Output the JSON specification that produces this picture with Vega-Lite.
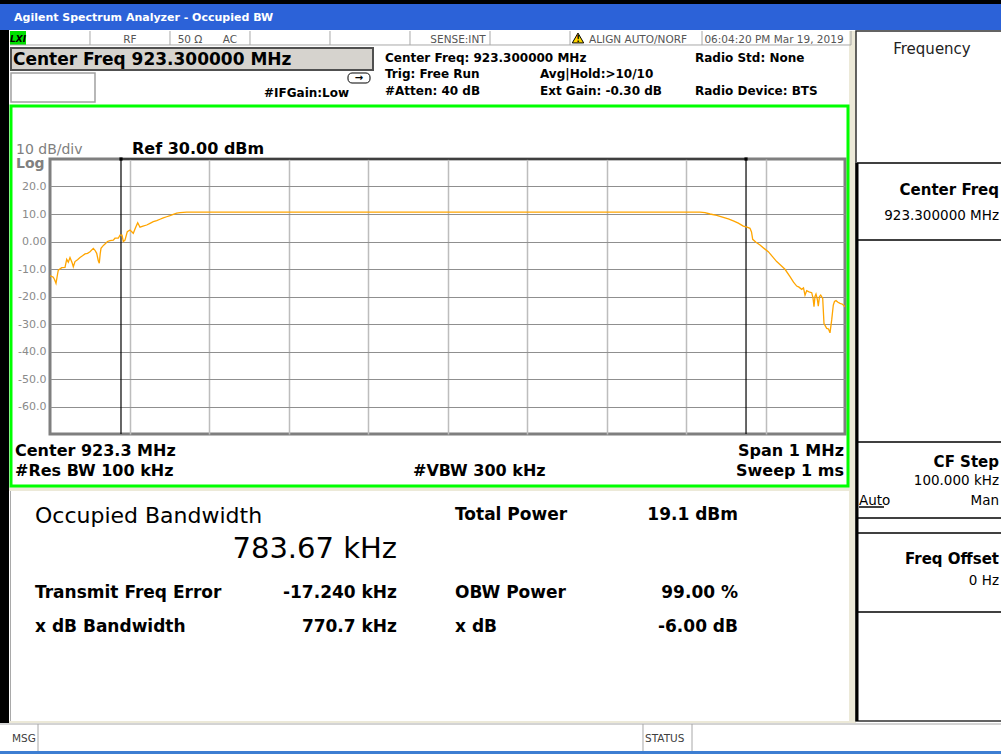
{
  "$schema": "https://vega.github.io/schema/vega-lite/v6.json",
  "width": 795,
  "height": 275,
  "autosize": {"type": "none"},
  "padding": {"left": 50, "top": 159, "right": 156, "bottom": 320},
  "background": "white",
  "config": {"view": {"stroke": "#7F7F7F", "strokeWidth": 3, "fill": "white"}, "font": "DejaVu Sans"},
  "datasets": {
    "trace": [
      {"f": 922.8, "v": -12.5}, {"f": 922.80126, "v": -12.6}, {"f": 922.80415, "v": -13.0}, {"f": 922.80566, "v": -13.8},
      {"f": 922.80755, "v": -15.2}, {"f": 922.80943, "v": -12.0}, {"f": 922.81044, "v": -10.4}, {"f": 922.81472, "v": -9.5},
      {"f": 922.81887, "v": -9.4}, {"f": 922.82101, "v": -6.5}, {"f": 922.82302, "v": -7.5}, {"f": 922.82516, "v": -5.8},
      {"f": 922.82767, "v": -7.6}, {"f": 922.82931, "v": -9.2}, {"f": 922.83145, "v": -7.3}, {"f": 922.8346, "v": -6.6},
      {"f": 922.83774, "v": -5.8}, {"f": 922.84088, "v": -5.2}, {"f": 922.84403, "v": -4.5}, {"f": 922.84717, "v": -4.3},
      {"f": 922.85031, "v": -3.7}, {"f": 922.85447, "v": -2.5}, {"f": 922.8566, "v": -3.2}, {"f": 922.85874, "v": -4.3},
      {"f": 922.86075, "v": -7.0}, {"f": 922.86201, "v": -7.9}, {"f": 922.86314, "v": -4.5}, {"f": 922.86415, "v": -2.5},
      {"f": 922.86667, "v": -1.6}, {"f": 922.86918, "v": -0.9}, {"f": 922.87233, "v": 0.0}, {"f": 922.87547, "v": 0.3},
      {"f": 922.87962, "v": 0.5}, {"f": 922.88176, "v": 1.2}, {"f": 922.8859, "v": 1.2}, {"f": 922.88805, "v": 2.3},
      {"f": 922.89057, "v": 2.3}, {"f": 922.8922, "v": 0.0}, {"f": 922.89434, "v": 0.5}, {"f": 922.89723, "v": 3.6},
      {"f": 922.90063, "v": 4.2}, {"f": 922.90478, "v": 3.0}, {"f": 922.90755, "v": 5.0}, {"f": 922.91031, "v": 6.8},
      {"f": 922.91321, "v": 5.2}, {"f": 922.91698, "v": 5.6}, {"f": 922.92164, "v": 6.0}, {"f": 922.92579, "v": 6.6},
      {"f": 922.92994, "v": 7.2}, {"f": 922.93421, "v": 7.6}, {"f": 922.93836, "v": 8.1}, {"f": 922.94252, "v": 8.6},
      {"f": 922.94679, "v": 9.0}, {"f": 922.95094, "v": 9.4}, {"f": 922.95509, "v": 9.9}, {"f": 922.95937, "v": 10.3},
      {"f": 922.96352, "v": 10.5}, {"f": 922.97195, "v": 10.7}, {"f": 923.05157, "v": 10.7}, {"f": 923.24025, "v": 10.7},
      {"f": 923.42893, "v": 10.7}, {"f": 923.61761, "v": 10.7}, {"f": 923.6239, "v": 10.5}, {"f": 923.63019, "v": 10.0},
      {"f": 923.63862, "v": 9.5}, {"f": 923.64692, "v": 8.8}, {"f": 923.65321, "v": 8.2}, {"f": 923.6595, "v": 7.5},
      {"f": 923.66579, "v": 6.7}, {"f": 923.67208, "v": 5.6}, {"f": 923.67673, "v": 5.2}, {"f": 923.6805, "v": 4.8},
      {"f": 923.68239, "v": 3.5}, {"f": 923.6839, "v": 0.8}, {"f": 923.68805, "v": -0.3}, {"f": 923.69308, "v": -1.3},
      {"f": 923.69811, "v": -2.5}, {"f": 923.70352, "v": -3.7}, {"f": 923.70881, "v": -5.5}, {"f": 923.71409, "v": -7.3},
      {"f": 923.7195, "v": -8.7}, {"f": 923.72453, "v": -10.1}, {"f": 923.73082, "v": -12.8}, {"f": 923.73522, "v": -14.8},
      {"f": 923.73925, "v": -16.2}, {"f": 923.74214, "v": -16.6}, {"f": 923.74553, "v": -17.4}, {"f": 923.7478, "v": -16.9},
      {"f": 923.74969, "v": -19.5}, {"f": 923.75182, "v": -17.9}, {"f": 923.75472, "v": -18.3}, {"f": 923.75811, "v": -18.6},
      {"f": 923.75975, "v": -20.5}, {"f": 923.76101, "v": -23.7}, {"f": 923.76226, "v": -20.0}, {"f": 923.76352, "v": -19.1},
      {"f": 923.76516, "v": -21.0}, {"f": 923.76642, "v": -23.5}, {"f": 923.76792, "v": -20.0}, {"f": 923.76943, "v": -19.5},
      {"f": 923.77195, "v": -20.7}, {"f": 923.77358, "v": -29.8}, {"f": 923.77698, "v": -31.6}, {"f": 923.77925, "v": -31.8},
      {"f": 923.78113, "v": -33.2}, {"f": 923.78327, "v": -28.5}, {"f": 923.78528, "v": -23.1}, {"f": 923.78679, "v": -21.8},
      {"f": 923.78868, "v": -21.5}, {"f": 923.79119, "v": -22.1}, {"f": 923.79371, "v": -22.5}, {"f": 923.79686, "v": -22.8},
      {"f": 923.8, "v": -23.7}
    ],
    "markers": [
      {"f": 922.8893, "f2": 922.8893, "v": -70, "v2": 30},
      {"f": 923.6755, "f2": 923.6755, "v": -70, "v2": 30},
      {"f": 922.8893, "f2": 923.6755, "v": 30, "v2": 30}
    ],
    "markerDots": [{"f": 922.8893, "v": 30}, {"f": 923.6755, "v": 30}],
    "rBlack": [
      {"f": 922.73711, "f2": 923.99623, "v": 87.818, "v2": 86.364},
      {"f": 922.73711, "f2": 922.74843, "v": 76.909, "v2": -175.091}
    ],
    "rTitle": [{"f": 922.73711, "f2": 923.99623, "v": 86.364, "v2": 76.909}],
    "rBeige": [
      {"f": 923.80503, "f2": 923.81384, "v": 76.545, "v2": -175.091},
      {"f": 922.74843, "f2": 923.80503, "v": -89.273, "v2": -90.727},
      {"f": 922.74843, "f2": 923.81384, "v": -174.364, "v2": -175.091}
    ],
    "rLxi": [{"f": 922.74969, "f2": 922.76981, "v": 76.545, "v2": 71.455}],
    "rCf": [{"f": 922.75094, "f2": 923.20629, "v": 70.364, "v2": 62.364}],
    "rWhite": [{"f": 922.75094, "f2": 922.8566, "v": 61.273, "v2": 50.727}],
    "rIcon": [{"f": 923.17484, "f2": 923.20252, "v": 61.273, "v2": 57.636}],
    "rGreen": [{"f": 922.75094, "f2": 923.80377, "v": 49.273, "v2": -88.909}],
    "rSoft": [{"f": 923.81384, "f2": 923.99874, "v": 76.545, "v2": -174.364}],
    "rBlue": [{"f": 922.73711, "f2": 923.99623, "v": -185.273, "v2": -186.364}],
    "lStatus": [
      {"f": 922.85031, "f2": 922.85031, "v": 76.545, "v2": 71.455},
      {"f": 922.95094, "f2": 922.95094, "v": 76.545, "v2": 71.455},
      {"f": 923.05157, "f2": 923.05157, "v": 76.545, "v2": 71.455},
      {"f": 923.1522, "f2": 923.1522, "v": 76.545, "v2": 71.455},
      {"f": 923.25283, "f2": 923.25283, "v": 76.545, "v2": 71.455},
      {"f": 923.35346, "f2": 923.35346, "v": 76.545, "v2": 71.455},
      {"f": 923.45409, "f2": 923.45409, "v": 76.545, "v2": 71.455},
      {"f": 923.62013, "f2": 923.62013, "v": 76.545, "v2": 71.455},
      {"f": 923.80755, "f2": 923.80755, "v": 76.545, "v2": 71.455},
      {"f": 922.74969, "f2": 923.80755, "v": 71.455, "v2": 71.455},
      {"f": 922.75031, "f2": 922.75031, "v": -90.727, "v2": -174.364},
      {"f": 922.73711, "f2": 923.99623, "v": -175.455, "v2": -175.455},
      {"f": 922.78491, "f2": 922.78491, "v": -175.455, "v2": -185.273},
      {"f": 923.54591, "f2": 923.54591, "v": -175.455, "v2": -185.273},
      {"f": 923.60755, "f2": 923.60755, "v": -175.455, "v2": -185.273}
    ],
    "lSoftThin": [
      {"f": 923.81509, "f2": 923.99874, "v": 28.545, "v2": 28.545},
      {"f": 923.81509, "f2": 923.99874, "v": 0.545, "v2": 0.545},
      {"f": 923.81509, "f2": 923.99874, "v": -72.909, "v2": -72.909},
      {"f": 923.81509, "f2": 923.99874, "v": -100.545, "v2": -100.545},
      {"f": 923.81509, "f2": 923.99874, "v": -106, "v2": -106},
      {"f": 923.81509, "f2": 923.99874, "v": -134.727, "v2": -134.727},
      {"f": 923.81761, "f2": 923.84906, "v": -96.545, "v2": -96.545}
    ],
    "lSoftThick": [{"f": 923.81509, "f2": 923.81509, "v": 28.545, "v2": -174.364}],
    "warn": [{"f": 923.46415, "v": 74}],
    "tWarn": [{"t": "!", "f": 923.46415, "v": 72.545}],
    "tTitle": [{"t": "Agilent Spectrum Analyzer - Occupied BW", "f": 922.75472, "v": 80.182}],
    "tStatus": [
      {"t": "RF", "f": 922.90063, "v": 72.182},
      {"t": "50 Ω", "f": 922.9761, "v": 72.182},
      {"t": "AC", "f": 923.02642, "v": 72.182},
      {"t": "SENSE:INT", "f": 923.31321, "v": 72.182},
      {"t": "ALIGN AUTO/NORF", "f": 923.53962, "v": 72.182},
      {"t": "06:04:20 PM Mar 19, 2019", "f": 923.71069, "v": 72.182}
    ],
    "tLxi": [{"t": "LXI", "f": 922.75975, "v": 72.545}],
    "tArrow": [{"t": "→", "f": 923.18868, "v": 59.455}],
    "tHeader": [{"t": "Center Freq 923.300000 MHz", "f": 922.75346, "v": 64.182}],
    "tInfo": [
      {"t": "Center Freq: 923.300000 MHz", "f": 923.22138, "v": 65.4},
      {"t": "Trig: Free Run", "f": 923.22138, "v": 59.455},
      {"t": "#Atten: 40 dB", "f": 923.22138, "v": 53.273},
      {"t": "Avg|Hold:>10/10", "f": 923.41635, "v": 59.455},
      {"t": "Ext Gain: -0.30 dB", "f": 923.41635, "v": 53.273},
      {"t": "Radio Std: None", "f": 923.61132, "v": 65.4},
      {"t": "Radio Device: BTS", "f": 923.61132, "v": 53.273},
      {"t": "#IFGain:Low", "f": 923.06918, "v": 52.545}
    ],
    "tDiv": [{"t": "10 dB/div", "f": 922.75723, "v": 31.818}],
    "tLog": [{"t": "Log", "f": 922.75723, "v": 26.727}],
    "tRef": [{"t": "Ref 30.00 dBm", "f": 922.90314, "v": 31.818}],
    "tBotL": [
      {"t": "Center 923.3 MHz", "f": 922.75597, "v": -78},
      {"t": "#Res BW 100 kHz", "f": 922.75597, "v": -85.273},
      {"t": "#VBW 300 kHz", "f": 923.2566, "v": -85.273}
    ],
    "tBotR": [
      {"t": "Span 1 MHz", "f": 923.79874, "v": -78},
      {"t": "Sweep 1 ms", "f": 923.79874, "v": -85.273}
    ],
    "tOcc": [{"t": "Occupied Bandwidth", "f": 922.78113, "v": -102.364}],
    "tObw": [{"t": "783.67 kHz", "f": 923.23648, "v": -115.091}],
    "tResL": [
      {"t": "Transmit Freq Error", "f": 922.78113, "v": -129.636},
      {"t": "x dB Bandwidth", "f": 922.78113, "v": -142},
      {"t": "Total Power", "f": 923.30943, "v": -101.273},
      {"t": "OBW Power", "f": 923.30943, "v": -129.636},
      {"t": "x dB", "f": 923.30943, "v": -142}
    ],
    "tResR": [
      {"t": "-17.240 kHz", "f": 923.23648, "v": -129.636},
      {"t": "770.7 kHz", "f": 923.23648, "v": -142},
      {"t": "19.1 dBm", "f": 923.66541, "v": -101.273},
      {"t": "99.00 %", "f": 923.66541, "v": -129.636},
      {"t": "-6.00 dB", "f": 923.66541, "v": -142}
    ],
    "tFreq": [{"t": "Frequency", "f": 923.90943, "v": 68.182}],
    "tSkB": [
      {"t": "Center Freq", "f": 923.99371, "v": 16.909},
      {"t": "CF Step", "f": 923.99371, "v": -82},
      {"t": "Freq Offset", "f": 923.99371, "v": -117.273}
    ],
    "tSkN": [
      {"t": "923.300000 MHz", "f": 923.99371, "v": 7.818},
      {"t": "100.000 kHz", "f": 923.99371, "v": -88.545},
      {"t": "Man", "f": 923.99371, "v": -95.818},
      {"t": "0 Hz", "f": 923.99371, "v": -124.909}
    ],
    "tAuto": [{"t": "Auto", "f": 923.81761, "v": -95.818}],
    "tMsg": [{"t": "MSG", "f": 922.7522, "v": -182}, {"t": "STATUS", "f": 923.54843, "v": -182}]
  },
  "encoding": {
    "x": {"field": "f", "type": "quantitative", "scale": {"domain": [922.8, 923.8], "nice": false, "zero": false},
          "axis": {"title": null, "values": [922.9, 923.0, 923.1, 923.2, 923.3, 923.4, 923.5, 923.6, 923.7], "labels": false, "ticks": false, "domain": false, "grid": true, "gridColor": "#BDBDBD", "gridWidth": 1.5}},
    "y": {"field": "v", "type": "quantitative", "scale": {"domain": [-70, 30], "nice": false, "zero": false},
          "axis": {"title": null, "values": [-60, -50, -40, -30, -20, -10, 0, 10, 20], "labelOverlap": false, "labelExpr": "datum.value == 0 ? '0.00' : datum.value + '.0'", "labelColor": "#8A8A8A", "labelFont": "DejaVu Sans", "labelFontSize": 11, "labelPadding": 4, "ticks": false, "domain": false, "grid": true, "gridColor": "#8F8F8F", "gridWidth": 1}}
  },
  "layer": [
    {"data": {"name": "rBlack"}, "mark": {"type": "rect", "fill": "#000000", "clip": false}, "encoding": {"x2": {"field": "f2"}, "y2": {"field": "v2"}}},
    {"data": {"name": "rTitle"}, "mark": {"type": "rect", "fill": "#2C62D8", "clip": false}, "encoding": {"x2": {"field": "f2"}, "y2": {"field": "v2"}}},
    {"data": {"name": "rBeige"}, "mark": {"type": "rect", "fill": "#ECE9D8", "clip": false}, "encoding": {"x2": {"field": "f2"}, "y2": {"field": "v2"}}},
    {"data": {"name": "rBlue"}, "mark": {"type": "rect", "fill": "#3D7ED2", "clip": false}, "encoding": {"x2": {"field": "f2"}, "y2": {"field": "v2"}}},
    {"data": {"name": "rLxi"}, "mark": {"type": "rect", "fill": "#00E000", "clip": false}, "encoding": {"x2": {"field": "f2"}, "y2": {"field": "v2"}}},
    {"data": {"name": "rCf"}, "mark": {"type": "rect", "fill": "#D6D3CE", "stroke": "#505050", "strokeWidth": 2, "clip": false}, "encoding": {"x2": {"field": "f2"}, "y2": {"field": "v2"}}},
    {"data": {"name": "rWhite"}, "mark": {"type": "rect", "fill": "#FFFFFF", "stroke": "#A0A0A0", "strokeWidth": 1.5, "clip": false}, "encoding": {"x2": {"field": "f2"}, "y2": {"field": "v2"}}},
    {"data": {"name": "rIcon"}, "mark": {"type": "rect", "fill": "#FFFFFF", "stroke": "#000000", "strokeWidth": 1, "cornerRadius": 4, "clip": false}, "encoding": {"x2": {"field": "f2"}, "y2": {"field": "v2"}}},
    {"data": {"name": "rGreen"}, "mark": {"type": "rect", "fill": null, "fillOpacity": 0, "stroke": "#00FF00", "strokeWidth": 3, "clip": false}, "encoding": {"x2": {"field": "f2"}, "y2": {"field": "v2"}}},
    {"data": {"name": "rSoft"}, "mark": {"type": "rect", "fill": "#FFFFFF", "stroke": "#303030", "strokeWidth": 1.5, "clip": false}, "encoding": {"x2": {"field": "f2"}, "y2": {"field": "v2"}}},
    {"data": {"name": "lStatus"}, "mark": {"type": "rule", "color": "#A8A8A8", "strokeWidth": 1, "clip": false}, "encoding": {"x2": {"field": "f2"}, "y2": {"field": "v2"}}},
    {"data": {"name": "lSoftThin"}, "mark": {"type": "rule", "color": "#000000", "strokeWidth": 1.5, "clip": false}, "encoding": {"x2": {"field": "f2"}, "y2": {"field": "v2"}}},
    {"data": {"name": "lSoftThick"}, "mark": {"type": "rule", "color": "#000000", "strokeWidth": 3, "clip": false}, "encoding": {"x2": {"field": "f2"}, "y2": {"field": "v2"}}},
    {"data": {"name": "markers"}, "mark": {"type": "rule", "color": "#000000", "strokeWidth": 1.2, "clip": false}, "encoding": {"x2": {"field": "f2"}, "y2": {"field": "v2"}}},
    {"data": {"name": "markerDots"}, "mark": {"type": "point", "shape": "square", "filled": true, "color": "#000000", "size": 10, "opacity": 1, "clip": false}},
    {"data": {"name": "trace"}, "mark": {"type": "line", "color": "#FFA500", "strokeWidth": 1.3, "clip": true}},
    {"data": {"name": "warn"}, "mark": {"type": "point", "shape": "triangle-up", "filled": true, "fill": "#FFD800", "stroke": "#000000", "strokeWidth": 1, "size": 130, "opacity": 1, "clip": false}},
    {"data": {"name": "tWarn"}, "mark": {"type": "text", "align": "center", "baseline": "alphabetic", "fontSize": 8, "fontWeight": "bold", "color": "#000000", "clip": false}, "encoding": {"text": {"field": "t"}}},
    {"data": {"name": "tTitle"}, "mark": {"type": "text", "align": "left", "baseline": "alphabetic", "font": "DejaVu Sans", "fontSize": 11, "fontWeight": "bold", "color": "#FFFFFF", "clip": false}, "encoding": {"text": {"field": "t"}}},
    {"data": {"name": "tStatus"}, "mark": {"type": "text", "align": "center", "baseline": "alphabetic", "font": "DejaVu Sans", "fontSize": 10.5, "color": "#555555", "clip": false}, "encoding": {"text": {"field": "t"}}},
    {"data": {"name": "tLxi"}, "mark": {"type": "text", "align": "center", "baseline": "alphabetic", "font": "DejaVu Sans", "fontSize": 9, "fontWeight": "bold", "fontStyle": "italic", "color": "#000000", "clip": false}, "encoding": {"text": {"field": "t"}}},
    {"data": {"name": "tArrow"}, "mark": {"type": "text", "align": "center", "baseline": "middle", "font": "DejaVu Sans", "fontSize": 10, "fontWeight": "bold", "color": "#000000", "clip": false}, "encoding": {"text": {"field": "t"}}},
    {"data": {"name": "tHeader"}, "mark": {"type": "text", "align": "left", "baseline": "alphabetic", "font": "DejaVu Sans", "fontSize": 17, "fontWeight": "bold", "color": "#000000", "clip": false}, "encoding": {"text": {"field": "t"}}},
    {"data": {"name": "tInfo"}, "mark": {"type": "text", "align": "left", "baseline": "alphabetic", "font": "DejaVu Sans", "fontSize": 12, "fontWeight": "bold", "color": "#000000", "clip": false}, "encoding": {"text": {"field": "t"}}},
    {"data": {"name": "tDiv"}, "mark": {"type": "text", "align": "left", "baseline": "alphabetic", "font": "DejaVu Sans", "fontSize": 14, "color": "#808080", "clip": false}, "encoding": {"text": {"field": "t"}}},
    {"data": {"name": "tLog"}, "mark": {"type": "text", "align": "left", "baseline": "alphabetic", "font": "DejaVu Sans", "fontSize": 14, "fontWeight": "bold", "color": "#808080", "clip": false}, "encoding": {"text": {"field": "t"}}},
    {"data": {"name": "tRef"}, "mark": {"type": "text", "align": "left", "baseline": "alphabetic", "font": "DejaVu Sans", "fontSize": 16, "fontWeight": "bold", "color": "#000000", "clip": false}, "encoding": {"text": {"field": "t"}}},
    {"data": {"name": "tBotL"}, "mark": {"type": "text", "align": "left", "baseline": "alphabetic", "font": "DejaVu Sans", "fontSize": 16, "fontWeight": "bold", "color": "#000000", "clip": false}, "encoding": {"text": {"field": "t"}}},
    {"data": {"name": "tBotR"}, "mark": {"type": "text", "align": "right", "baseline": "alphabetic", "font": "DejaVu Sans", "fontSize": 16, "fontWeight": "bold", "color": "#000000", "clip": false}, "encoding": {"text": {"field": "t"}}},
    {"data": {"name": "tOcc"}, "mark": {"type": "text", "align": "left", "baseline": "alphabetic", "font": "DejaVu Sans", "fontSize": 22, "color": "#000000", "clip": false}, "encoding": {"text": {"field": "t"}}},
    {"data": {"name": "tObw"}, "mark": {"type": "text", "align": "right", "baseline": "alphabetic", "font": "DejaVu Sans", "fontSize": 29, "color": "#000000", "clip": false}, "encoding": {"text": {"field": "t"}}},
    {"data": {"name": "tResL"}, "mark": {"type": "text", "align": "left", "baseline": "alphabetic", "font": "DejaVu Sans", "fontSize": 17, "fontWeight": "bold", "color": "#000000", "clip": false}, "encoding": {"text": {"field": "t"}}},
    {"data": {"name": "tResR"}, "mark": {"type": "text", "align": "right", "baseline": "alphabetic", "font": "DejaVu Sans", "fontSize": 17, "fontWeight": "bold", "color": "#000000", "clip": false}, "encoding": {"text": {"field": "t"}}},
    {"data": {"name": "tFreq"}, "mark": {"type": "text", "align": "center", "baseline": "alphabetic", "font": "DejaVu Sans", "fontSize": 15, "color": "#222222", "clip": false}, "encoding": {"text": {"field": "t"}}},
    {"data": {"name": "tSkB"}, "mark": {"type": "text", "align": "right", "baseline": "alphabetic", "font": "DejaVu Sans", "fontSize": 15, "fontWeight": "bold", "color": "#000000", "clip": false}, "encoding": {"text": {"field": "t"}}},
    {"data": {"name": "tSkN"}, "mark": {"type": "text", "align": "right", "baseline": "alphabetic", "font": "DejaVu Sans", "fontSize": 13.5, "color": "#000000", "clip": false}, "encoding": {"text": {"field": "t"}}},
    {"data": {"name": "tAuto"}, "mark": {"type": "text", "align": "left", "baseline": "alphabetic", "font": "DejaVu Sans", "fontSize": 13.5, "color": "#000000", "clip": false}, "encoding": {"text": {"field": "t"}}},
    {"data": {"name": "tMsg"}, "mark": {"type": "text", "align": "left", "baseline": "alphabetic", "font": "DejaVu Sans", "fontSize": 10.5, "color": "#404040", "clip": false}, "encoding": {"text": {"field": "t"}}}
  ]
}
